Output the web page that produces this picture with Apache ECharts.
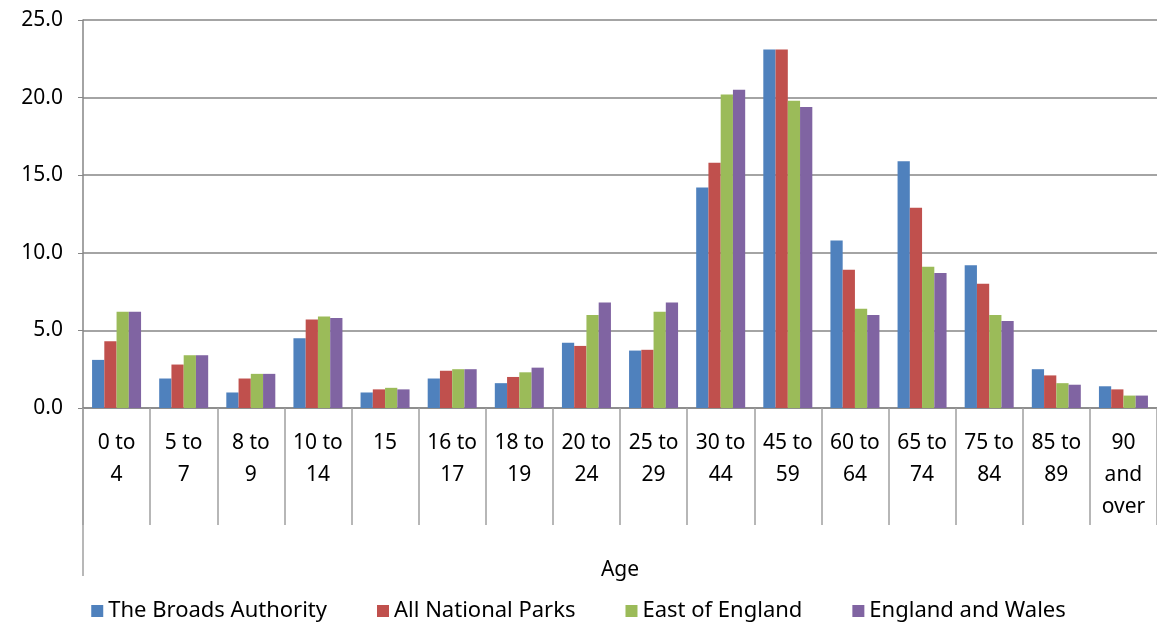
<!DOCTYPE html>
<html>
<head>
<meta charset="utf-8">
<script src="https://cdn.jsdelivr.net/npm/echarts@6/dist/echarts.min.js"></script>
<style>
  html, body { margin: 0; padding: 0; background: #fff; }
  #chart { width: 1157px; height: 627px; }
</style>
</head>
<body>
<div id="chart"></div>
<script>
let ages = ['0 to\n4', '5 to\n7', '8 to\n9', '10 to\n14', '15', '16 to\n17', '18 to\n19', '20 to\n24',
  '25 to\n29', '30 to\n44', '45 to\n59', '60 to\n64', '65 to\n74', '75 to\n84', '85 to\n89', '90\nand\nover'];

let broads = [3.1, 1.9, 1.0, 4.5, 1.0, 1.9, 1.6, 4.2, 3.7, 14.2, 23.1, 10.8, 15.9, 9.2, 2.5, 1.4];
let nationalParks = [4.3, 2.8, 1.9, 5.7, 1.2, 2.4, 2.0, 4.0, 3.75, 15.8, 23.1, 8.9, 12.9, 8.0, 2.1, 1.2];
let eastEngland = [6.2, 3.4, 2.2, 5.9, 1.3, 2.5, 2.3, 6.0, 6.2, 20.2, 19.8, 6.4, 9.1, 6.0, 1.6, 0.8];
let englandWales = [6.2, 3.4, 2.2, 5.8, 1.2, 2.5, 2.6, 6.8, 6.8, 20.5, 19.4, 6.0, 8.7, 5.6, 1.5, 0.8];

let names = ['The Broads Authority', 'All National Parks', 'East of England', 'England and Wales'];
let colors = ['#4F81BD', '#C0504D', '#9BBB59', '#8064A2'];
let allData = [broads, nationalParks, eastEngland, englandWales];

let font = 'Noto Sans';
let chart = echarts.init(document.getElementById('chart'));

let series = names.map(function (n, i) {
    return {
        name: n,
        type: 'bar',
        data: allData[i],
        barGap: '0%',
        barCategoryGap: '27%',
        itemStyle: { color: colors[i] }
    };
});

let option = {
    animation: false,
    color: colors,
    textStyle: { fontFamily: font },
    grid: { left: 83, right: 0, top: 20, bottom: 219, containLabel: false },
    legend: {
        bottom: 0,
        left: 'center',
        icon: 'rect',
        itemWidth: 12,
        itemHeight: 12,
        itemGap: 50,
        textStyle: { fontFamily: font, fontSize: 22, color: '#000' },
        data: names
    },
    xAxis: {
        type: 'category',
        data: ages,
        name: 'Age',
        nameLocation: 'middle',
        nameGap: 152,
        nameTextStyle: { fontFamily: font, fontSize: 21, color: '#000' },
        axisLine: { lineStyle: { color: '#868686', width: 1.5 } },
        axisTick: { show: true, length: 117, lineStyle: { color: '#A0A0A0', width: 1.5 } },
        axisLabel: {
            interval: 0,
            margin: 19,
            fontFamily: font,
            fontSize: 21,
            lineHeight: 32,
            color: '#000',
            verticalAlign: 'top'
        }
    },
    yAxis: {
        type: 'value',
        min: 0,
        max: 25,
        interval: 5,
        axisLine: { show: true, lineStyle: { color: '#868686', width: 1.5 } },
        axisTick: { show: true, length: 5, lineStyle: { color: '#868686' } },
        splitLine: { lineStyle: { color: '#868686', width: 1.5 } },
        axisLabel: {
            margin: 20,
            fontFamily: font,
            fontSize: 21,
            color: '#000',
            formatter: function (v) { return v.toFixed(1); }
        }
    },
    graphic: [{
        type: 'line',
        shape: { x1: 83, y1: 408, x2: 83, y2: 576 },
        style: { stroke: '#A0A0A0', lineWidth: 1.5 }
    }],
    series: series
};

chart.setOption(option);
</script>
</body>
</html>
